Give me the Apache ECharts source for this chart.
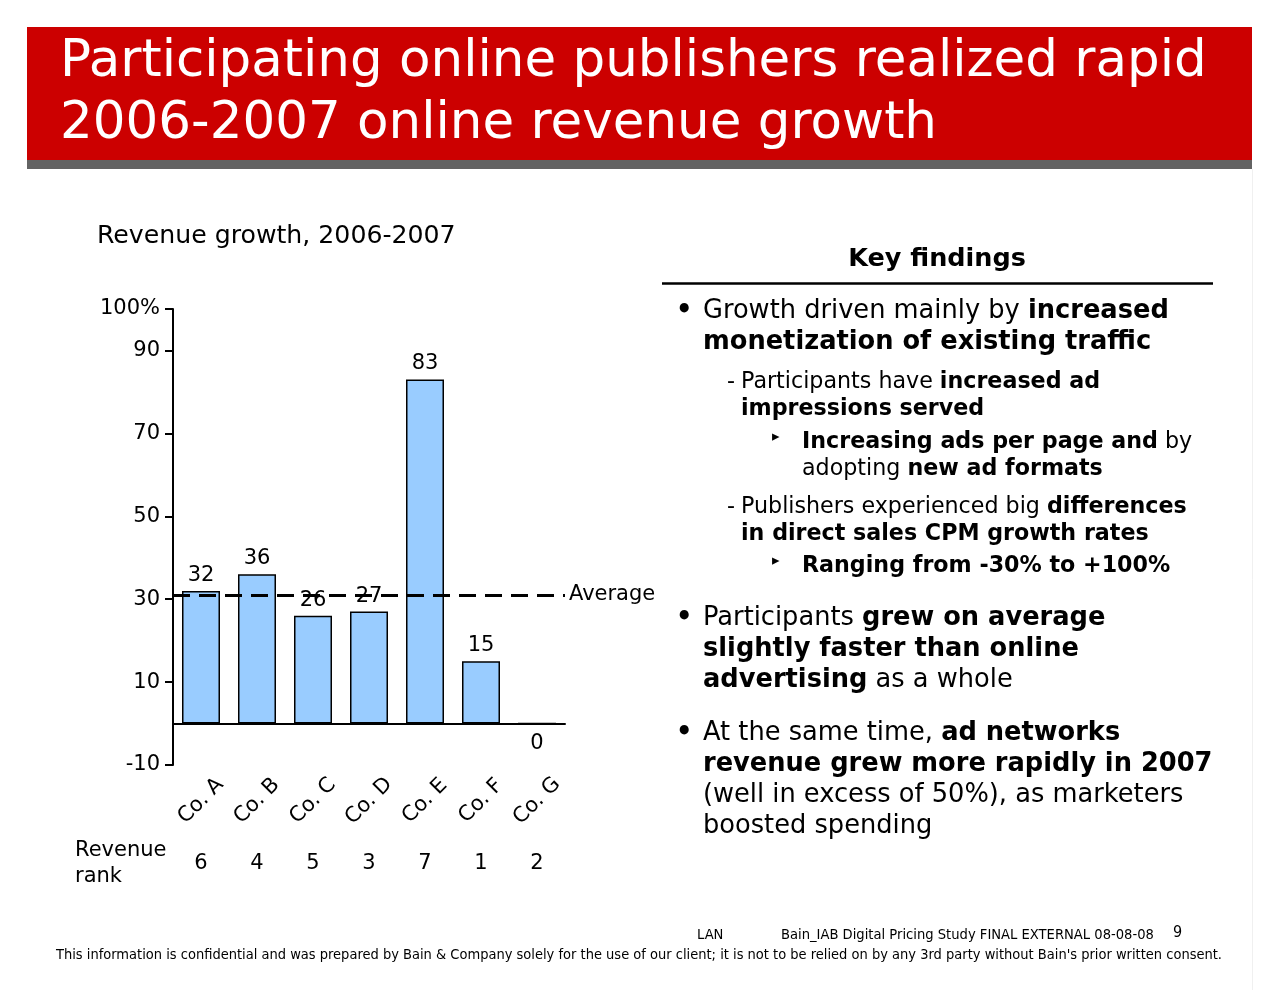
<!DOCTYPE html>
<html>
<head>
<meta charset="utf-8">
<script src="https://cdn.jsdelivr.net/npm/echarts@6/dist/echarts.min.js"></script>
<style>
  html, body { margin: 0; padding: 0; background: #ffffff; }
  #chart { width: 1280px; height: 990px; }
</style>
</head>
<body>
<div id="chart"></div>
<script>
// ---- Data ----
const categories = ['Co. A', 'Co. B', 'Co. C', 'Co. D', 'Co. E', 'Co. F', 'Co. G'];
const growth = [32, 36, 26, 27, 83, 15, 0];
const revenueRank = ['6', '4', '5', '3', '7', '1', '2'];
const averageGrowth = 31;
const yTickValues = [-10, 10, 30, 50, 70, 90, 100];

// ---- Text content ----
const titleText = 'Participating online publishers realized rapid\n2006-2007 online revenue growth';
const chartSubtitle = 'Revenue growth, 2006-2007';
const findingsHeader = 'Key findings';
// [x, y, fontSize, bulletChar, bulletX, parts]
const findingLines = [
  [703, 311, 25.7, '•', 676, [['Growth driven mainly by ', 0], ['increased', 1]]],
  [703, 342, 25.7, '', 0, [['monetization of existing traffic', 1]]],
  [741, 382, 22.2, '-', 727, [['Participants have ', 0], ['increased ad', 1]]],
  [741, 409, 22.2, '', 0, [['impressions served', 1]]],
  [802, 442, 22.2, '▸', 772, [['Increasing ads per page and', 1], [' by', 0]]],
  [802, 469, 22.2, '', 0, [['adopting ', 0], ['new ad formats', 1]]],
  [741, 507, 22.2, '-', 727, [['Publishers experienced big ', 0], ['differences', 1]]],
  [741, 534, 22.2, '', 0, [['in direct sales CPM growth rates', 1]]],
  [802, 566, 22.2, '▸', 772, [['Ranging from -30% to +100%', 1]]],
  [703, 618, 25.7, '•', 676, [['Participants ', 0], ['grew on average', 1]]],
  [703, 649, 25.7, '', 0, [['slightly faster than online', 1]]],
  [703, 680, 25.7, '', 0, [['advertising', 1], [' as a whole', 0]]],
  [703, 733, 25.7, '•', 676, [['At the same time, ', 0], ['ad networks', 1]]],
  [703, 764, 25.7, '', 0, [['revenue grew more rapidly in 2007', 1]]],
  [703, 795, 25.7, '', 0, [['(well in excess of 50%), as marketers', 0]]],
  [703, 826, 25.7, '', 0, [['boosted spending', 0]]]
];
const footerLeft = 'LAN';
const footerDoc = 'Bain_IAB Digital Pricing Study FINAL EXTERNAL 08-08-08';
const footerPage = '9';
const footerConfidential = "This information is confidential and was prepared by Bain & Company solely for the use of our client; it is not to be relied on by any 3rd party without Bain's prior written consent.";

const FONT = "'DejaVu Sans', Verdana, sans-serif";
const FOOT_FONT = "'DejaVu Sans Condensed', 'DejaVu Sans', sans-serif";

// ---- Build graphic elements ----
const graphics = [
  { type: 'rect', z: 0, shape: { x: 27, y: 27, width: 1225, height: 133 }, style: { fill: '#CC0000' } },
  { type: 'rect', z: 0, shape: { x: 27, y: 160, width: 1225, height: 9 }, style: { fill: '#636363' } },
  { type: 'line', z: 0, shape: { x1: 1252.5, y1: 169, x2: 1252.5, y2: 990 }, style: { stroke: '#f0f0f0', lineWidth: 1 } },
  { type: 'text', x: 97, y: 236, style: { text: chartSubtitle, fontSize: 25.2, fontFamily: FONT, fill: '#000', textVerticalAlign: 'middle', verticalAlign: 'middle' } },
  { type: 'text', x: 75, y: 864, style: { text: 'Revenue\nrank', fontSize: 21, lineHeight: 26, fontFamily: FONT, fill: '#000', textVerticalAlign: 'middle', verticalAlign: 'middle' } },
  { type: 'text', x: 937, y: 259, style: { text: findingsHeader, fontSize: 25.5, fontWeight: 'bold', fontFamily: FONT, fill: '#000', textAlign: 'center', align: 'center', textVerticalAlign: 'middle', verticalAlign: 'middle' } },
  { type: 'line', shape: { x1: 662, y1: 283.5, x2: 1213, y2: 283.5 }, style: { stroke: '#000', lineWidth: 2.5 } },
  { type: 'text', x: 697, y: 935, style: { text: footerLeft, fontSize: 14.6, fontFamily: FOOT_FONT, fill: '#000', textVerticalAlign: 'middle', verticalAlign: 'middle' } },
  { type: 'text', x: 781, y: 935, style: { text: footerDoc, fontSize: 14.6, fontFamily: FOOT_FONT, fill: '#000', textVerticalAlign: 'middle', verticalAlign: 'middle' } },
  { type: 'text', x: 1173, y: 933, style: { text: footerPage, fontSize: 16, fontFamily: FOOT_FONT, fill: '#000', textVerticalAlign: 'middle', verticalAlign: 'middle' } },
  { type: 'text', x: 639, y: 955, style: { text: footerConfidential, fontSize: 14.5, fontFamily: FOOT_FONT, fill: '#000', textAlign: 'center', align: 'center', textVerticalAlign: 'middle', verticalAlign: 'middle' } }
];

findingLines.forEach(function (ln) {
  const x = ln[0], y = ln[1], size = ln[2], bullet = ln[3], bx = ln[4], parts = ln[5];
  const text = parts.map(function (p) { return '{' + (p[1] ? 'b' : 'r') + '|' + p[0] + '}'; }).join('');
  graphics.push({
    type: 'text', x: x, y: y,
    style: {
      text: text, fontSize: size, fontFamily: FONT, fill: '#000',
      textVerticalAlign: 'middle', verticalAlign: 'middle',
      rich: {
        r: { fontSize: size, fontFamily: FONT, fontWeight: 'normal', fill: '#000', color: '#000' },
        b: { fontSize: size, fontFamily: FONT, fontWeight: 'bold', fill: '#000', color: '#000' }
      }
    }
  });
  if (bullet) {
    const isTri = bullet === '▸';
    graphics.push({
      type: 'text', x: bx, y: isTri ? y - 5 : y,
      style: { text: bullet, fontSize: isTri ? 15 : size, fontWeight: bullet === '•' ? 'bold' : 'normal', fontFamily: FONT, fill: '#000', textVerticalAlign: 'middle', verticalAlign: 'middle' }
    });
  }
});

// ---- Chart ----
const chart = echarts.init(document.getElementById('chart'), null, { renderer: 'canvas' });
const barData = growth.map(function (v) {
  return v === 0 ? { value: v, label: { position: 'bottom', distance: 9 } } : v;
});

chart.setOption({
  animation: false,
  backgroundColor: '#ffffff',
  title: {
    text: titleText, left: 60, top: 32, padding: 0,
    textStyle: { color: '#ffffff', fontSize: 51.5, fontWeight: 'normal', fontFamily: FONT, lineHeight: 62 }
  },
  grid: { left: 173, top: 309, width: 392, height: 456, containLabel: false, outerBoundsMode: 'none' },
  xAxis: [
    {
      type: 'category', data: categories, position: 'bottom',
      axisLine: { show: true, onZero: true, lineStyle: { color: '#000', width: 2 } },
      axisTick: { show: false }, axisLabel: { show: false }, splitLine: { show: false }
    },
    {
      type: 'category', data: categories, position: 'bottom',
      axisLine: { show: false, onZero: false }, axisTick: { show: false }, splitLine: { show: false },
      axisLabel: { show: true, rotate: 45, align: 'center', verticalAlign: 'middle', margin: 36, fontSize: 21, fontFamily: FONT, color: '#000', interval: 0 }
    },
    {
      type: 'category', data: revenueRank, position: 'bottom',
      axisLine: { show: false, onZero: false }, axisTick: { show: false }, splitLine: { show: false },
      axisLabel: { show: true, margin: 88, fontSize: 21, fontFamily: FONT, color: '#000', interval: 0 }
    }
  ],
  yAxis: {
    type: 'value', min: -10, max: 100, interval: 10,
    splitLine: { show: false },
    axisLine: { show: true, lineStyle: { color: '#000', width: 2 } },
    axisTick: { show: true, length: 8, lineStyle: { color: '#000', width: 2 }, customValues: yTickValues },
    axisLabel: {
      customValues: yTickValues, margin: 13, fontSize: 21, fontFamily: FONT, color: '#000',
      formatter: function (v) { return v === 100 ? '100%' : String(v); }
    }
  },
  series: [{
    type: 'bar', xAxisIndex: 0, data: barData, barWidth: 38,
    itemStyle: { color: '#99CCFF', borderColor: '#000', borderWidth: 1.5 },
    label: { show: true, position: 'top', distance: 5, fontSize: 21, fontFamily: FONT, color: '#000' },
    markLine: {
      silent: true, symbol: ['none', 'none'], animation: false,
      data: [{ yAxis: averageGrowth }],
      lineStyle: { color: '#000', type: [17, 9], width: 3 },
      label: { show: true, position: 'end', formatter: 'Average', fontSize: 21, fontFamily: FONT, color: '#000', distance: 4 }
    }
  }],
  graphic: graphics
});
</script>
</body>
</html>
